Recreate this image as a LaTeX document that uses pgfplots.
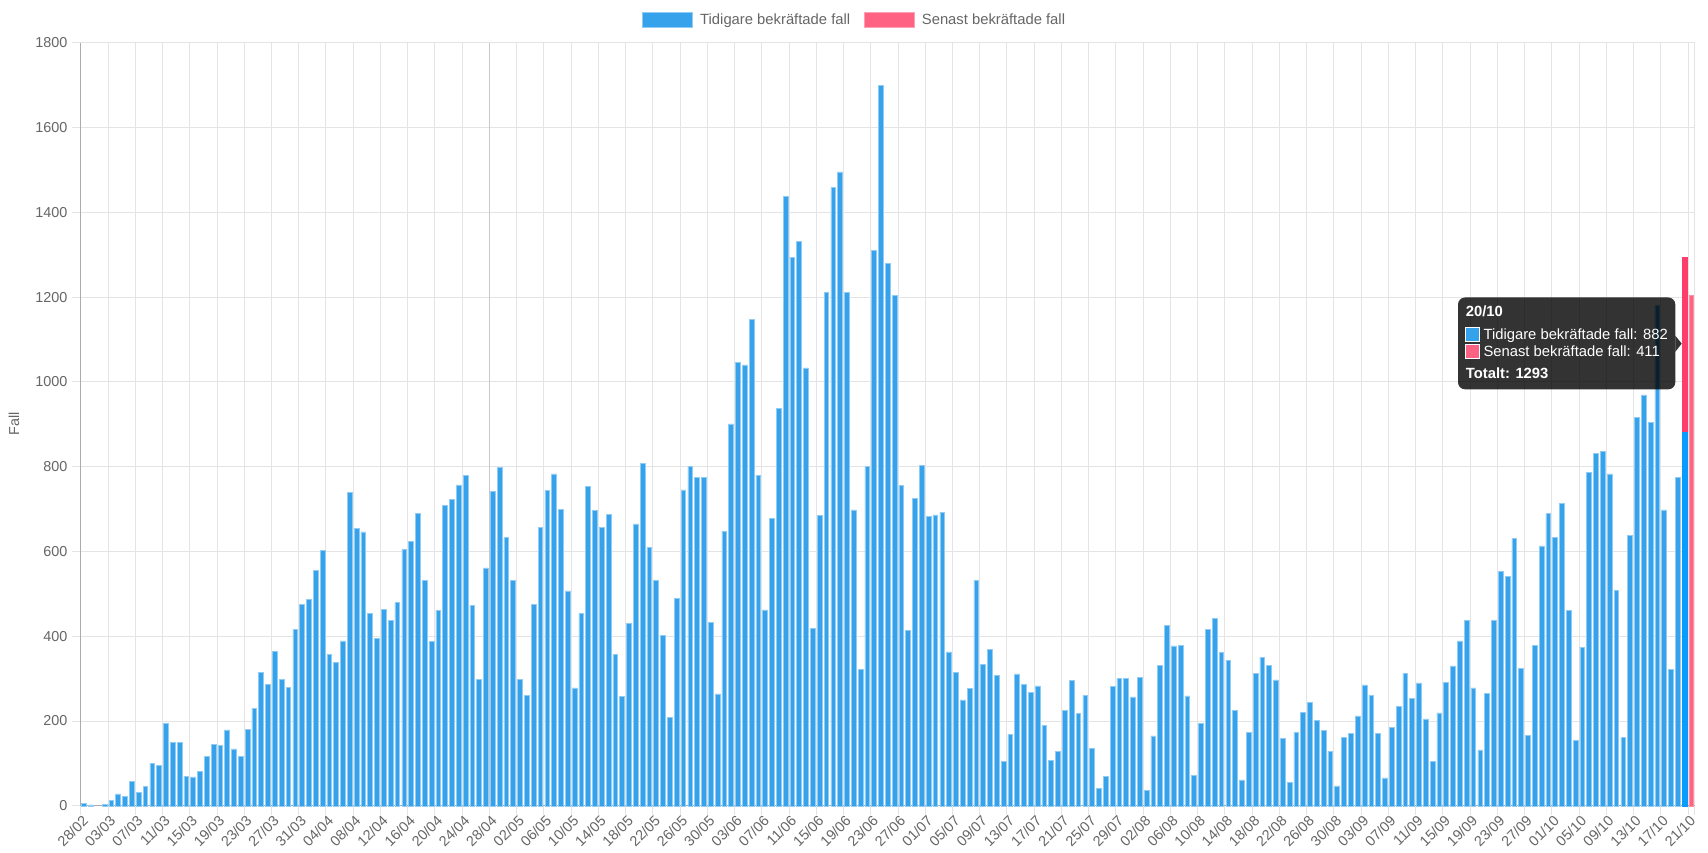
\documentclass[border=0pt]{standalone}
\usepackage{fontspec}
\setmainfont{Liberation Sans}
\usepackage{pgfplots}
\pgfplotsset{compat=1.18}
\definecolor{cjblue}{RGB}{54,162,235}
\definecolor{cjpink}{RGB}{255,99,132}
\definecolor{hovblue}{RGB}{8,156,255}
\definecolor{hovred}{RGB}{255,61,107}
\definecolor{gridc}{RGB}{228,228,228}
\definecolor{gridd}{RGB}{200,200,200}
\definecolor{axisc}{RGB}{172,172,172}
\definecolor{txt}{RGB}{102,102,102}
\newcommand\cf{\fontsize{14.4bp}{17bp}\selectfont}
\newcommand\lf{\fontsize{14.8bp}{17bp}\selectfont}
\begin{document}
\begin{tikzpicture}
\fill[white] (-80.7bp,-47.2bp) rectangle (1627.3bp,805.8bp);
\path[use as bounding box] (-80.7bp,-47.2bp) rectangle (1627.3bp,805.8bp);
\begin{axis}[
  at={(0,0)}, anchor=south west,
  scale only axis, width=1614bp, height=763.1bp,
  xmin=-0.5, xmax=236.5, ymin=0, ymax=1800,
  ybar, bar width=0.70,
  every axis plot/.append style={bar shift=0pt, line width=0.6bp},
  xtick={0,4,...,236},
  xticklabels={28/02,03/03,07/03,11/03,15/03,19/03,23/03,27/03,31/03,04/04,08/04,12/04,16/04,20/04,24/04,28/04,02/05,06/05,10/05,14/05,18/05,22/05,26/05,30/05,03/06,07/06,11/06,15/06,19/06,23/06,27/06,01/07,05/07,09/07,13/07,17/07,21/07,25/07,29/07,02/08,06/08,10/08,14/08,18/08,22/08,26/08,30/08,03/09,07/09,11/09,15/09,19/09,23/09,27/09,01/10,05/10,09/10,13/10,17/10,21/10},
  minor xtick={-0.5,3.5,...,235.5,236.5},
  ytick={0,200,...,1800},
  minor ytick={0,200,...,1800},
  xmajorgrids=false, ymajorgrids=false,
  xminorgrids=true, yminorgrids=true,
  minor grid style={gridc, line width=0.8bp},
  major tick length=0pt, minor tick length=9bp, tick align=outside,
  minor tick style={gridc, line width=0.8bp},
  axis x line*=bottom, axis y line*=left,
  axis line style={axisc, line width=0.8bp, -},
  scaled y ticks=false,
  /pgf/number format/assume math mode=true,
  /pgf/number format/1000 sep={},
  yticklabel style={font=\cf, color=txt, anchor=east, inner sep=0pt, xshift=-13bp},
  xticklabel style={font=\cf, color=txt, inner sep=0pt, yshift=-12.5bp, xshift=1.5bp, rotate=45, anchor=east},
  clip=false,
]
\draw[gridd, line width=0.8bp] (axis cs:59.5,0) -- (axis cs:59.5,1800);
\addplot[fill=cjblue, draw=cjblue!55!white] coordinates {
(0,6) (1,2) (3,4) (4,12) (5,28) (6,23) (7,58) (8,32) (9,45)
(10,100) (11,96) (12,195) (13,150) (14,150) (15,70) (16,68) (17,82) (18,117) (19,144)
(20,142) (21,179) (22,134) (23,116) (24,181) (25,229) (26,314) (27,286) (28,365) (29,299)
(30,279) (31,416) (32,475) (33,486) (34,555) (35,602) (36,357) (37,339) (38,389) (39,739)
(40,654) (41,646) (42,454) (43,395) (44,464) (45,437) (46,479) (47,605) (48,624) (49,690)
(50,532) (51,388) (52,461) (53,708) (54,722) (55,757) (56,780) (57,472) (58,298) (59,561)
(60,741) (61,798) (62,633) (63,531) (64,298) (65,260) (66,476) (67,656) (68,744) (69,783)
(70,699) (71,507) (72,278) (73,454) (74,753) (75,697) (76,656) (77,687) (78,357) (79,258)
(80,430) (81,665) (82,807) (83,609) (84,531) (85,402) (86,209) (87,490) (88,745) (89,800)
(90,774) (91,774) (92,432) (93,264) (94,648) (95,901) (96,1046) (97,1040) (98,1148) (99,780)
(100,462) (101,677) (102,937) (103,1438) (104,1294) (105,1331) (106,1033) (107,418) (108,685) (109,1211)
(110,1458) (111,1495) (112,1211) (113,698) (114,321) (115,800) (116,1310) (117,1699) (118,1280) (119,1204)
(120,755) (121,414) (122,726) (123,802) (124,683) (125,686) (126,693) (127,363) (128,314) (129,250)
(130,276) (131,532) (132,333) (133,368) (134,307) (135,105) (136,168) (137,311) (138,286) (139,267)
(140,283) (141,189) (142,108) (143,129) (144,225) (145,296) (146,218) (147,261) (148,136) (149,41)
(150,70) (151,282) (152,300) (153,300) (154,257) (155,303) (156,37) (157,165) (158,332) (159,425)
(160,377) (161,379) (162,259) (163,72) (164,195) (165,416) (166,442) (167,362) (168,343) (169,225)
(170,61) (171,173) (172,313) (173,350) (174,332) (175,297) (176,159) (177,56) (178,173) (179,221)
(180,243) (181,201) (182,178) (183,129) (184,47) (185,162) (186,170) (187,212) (188,285) (189,261)
(190,170) (191,66) (192,184) (193,235) (194,313) (195,254) (196,290) (197,205) (198,105) (199,219)
(200,291) (201,330) (202,389) (203,437) (204,278) (205,132) (206,265) (207,438) (208,553) (209,541)
(210,630) (211,324) (212,166) (213,378) (214,613) (215,689) (216,634) (217,713) (218,461) (219,154)
(220,374) (221,786) (222,832) (223,836) (224,783) (225,509) (226,161) (227,637) (228,917) (229,969)
(230,905) (231,1180) (232,698) (233,321) (234,774)
};
% 20/10 (hovered): total 1293 = 882 + 411
\addplot[fill=hovred, draw=hovred] coordinates {(235,1293)};
\addplot[fill=hovblue, draw=hovblue] coordinates {(235,882)};
% 21/10: senast bekraftade fall
\addplot[fill=cjpink, draw=cjpink!70!white] coordinates {(236,1205)};
\end{axis}
% y axis title
\node[rotate=90, font=\cf, color=txt] at (-66.7bp,381.8bp) {Fall};
% legend
\fill[cjblue] (561.3bp,778.5bp) rectangle (611.3bp,793.5bp);
\draw[cjblue!55!white, line width=0.6bp] (561.3bp,778.5bp) rectangle (611.3bp,793.5bp);
\node[anchor=base west, inner sep=0pt, font=\lf, color=txt] at (619.3bp,781.1bp) {Tidigare bekräftade fall};
\fill[cjpink] (783.3bp,778.5bp) rectangle (833.3bp,793.5bp);
\draw[cjpink!60!white, line width=0.6bp] (783.3bp,778.5bp) rectangle (833.3bp,793.5bp);
\node[anchor=base west, inner sep=0pt, font=\lf, color=txt] at (841bp,781.1bp) {Senast bekräftade fall};
% tooltip
\fill[black, fill opacity=0.8, rounded corners=7bp] (1377.3bp,416.5bp) rectangle (1594.6bp,508.3bp);
\fill[black, fill opacity=0.8] (1594.6bp,470.1bp) -- (1601bp,462.2bp) -- (1594.6bp,454bp) -- cycle;
\node[anchor=base west, inner sep=0pt, font=\lf\bfseries, color=white] at (1385bp,489.1bp) {20/10};
\fill[cjblue] (1385bp,464bp) rectangle (1398.6bp,478.3bp);
\draw[white, line width=1bp] (1385bp,464bp) rectangle (1398.6bp,478.3bp);
\node[anchor=base west, inner sep=0pt, font=\lf, color=white] at (1402.6bp,466.5bp) {Tidigare bekräftade fall: 882};
\fill[cjpink] (1385bp,446.9bp) rectangle (1398.6bp,461.2bp);
\draw[white, line width=1bp] (1385bp,446.9bp) rectangle (1398.6bp,461.2bp);
\node[anchor=base west, inner sep=0pt, font=\lf, color=white] at (1402.6bp,449.2bp) {Senast bekräftade fall: 411};
\node[anchor=base west, inner sep=0pt, font=\lf\bfseries, color=white] at (1385bp,427bp) {Totalt: 1293};
\end{tikzpicture}
\end{document}
